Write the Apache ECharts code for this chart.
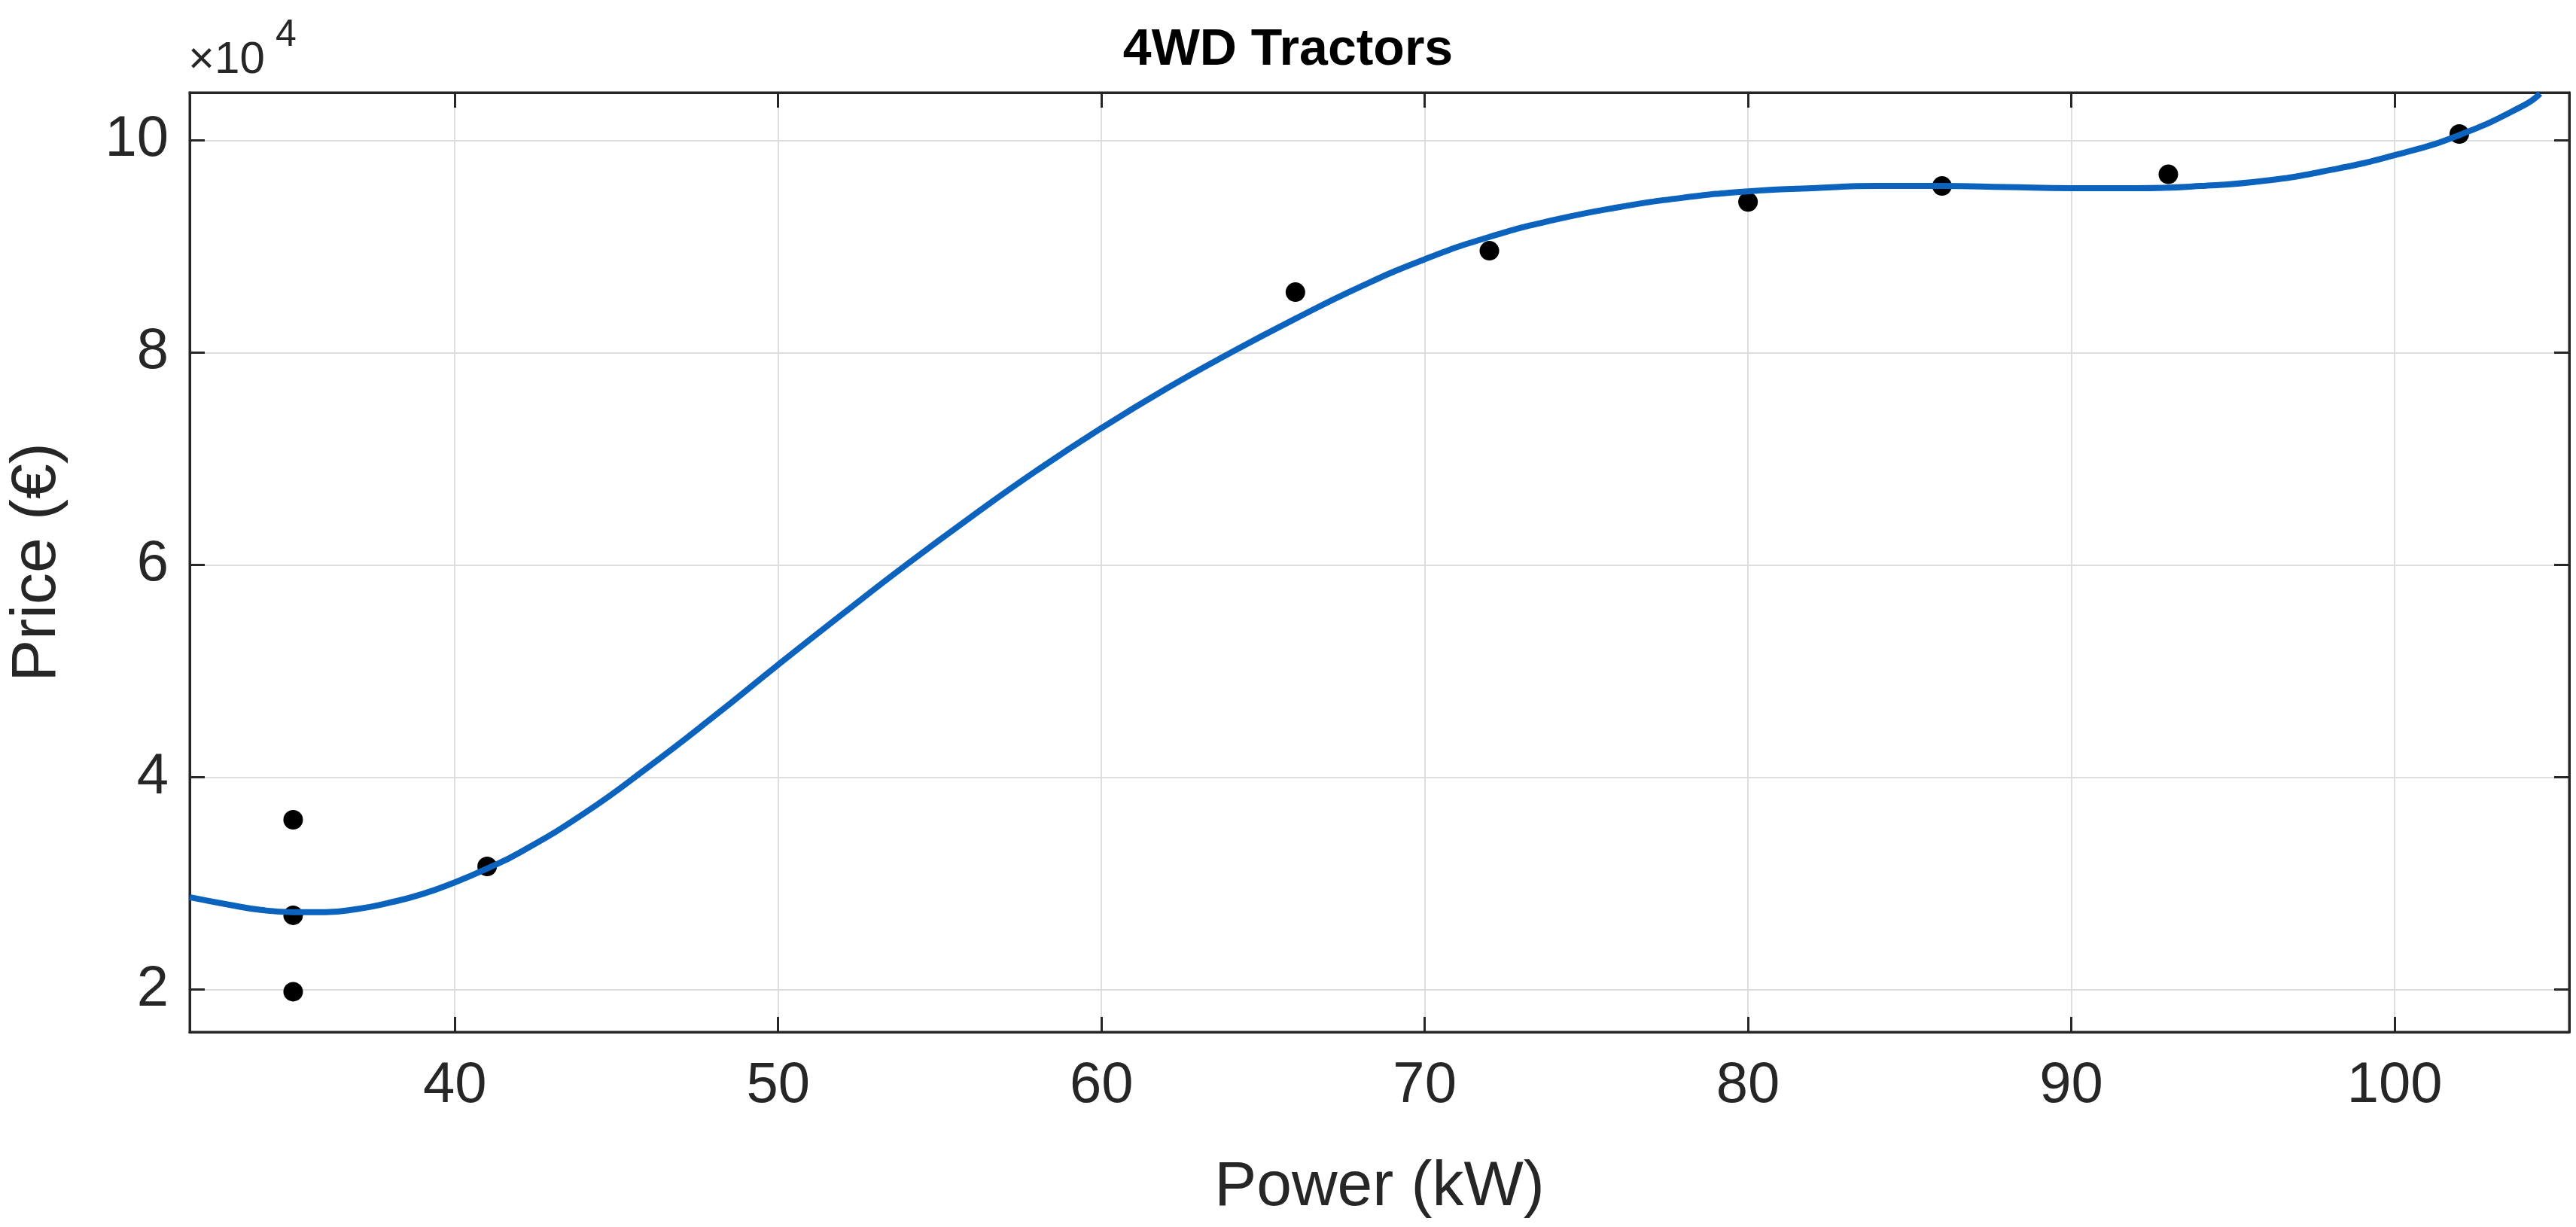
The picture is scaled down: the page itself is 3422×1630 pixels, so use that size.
<!DOCTYPE html>
<html style="height: 100%">
<head>
    <meta charset="UTF-8">
    <title>4WD Tractors</title>
</head>
<body style="height: 100%; margin: 0; background: #fff">
<div id="main" style="width: 3422px; height: 1630px"></div>
<script src="https://cdn.jsdelivr.net/npm/echarts@6/dist/echarts.min.js"></script>
<script type="text/javascript">
    // measured points (kW, €)
    var pointPower = [35, 35, 35, 41, 66, 72, 80, 86, 93, 102];
    var pointPrice = [36000, 27000, 19800, 31600, 85700, 89600, 94200, 95700, 96800, 100600];
    // fitted curve
    var curvePower = [31.8, 33, 34, 35, 36, 37, 38, 39, 40, 41, 42, 44, 46, 48, 50, 52, 54, 56, 58, 60,
        62, 64, 66, 68, 70, 72, 74, 76, 78, 80, 82, 84, 86, 88, 90, 92, 94, 96, 98, 100, 102, 104, 104.5];
    var curvePrice = [28700, 28000, 27500, 27300, 27300, 27600, 28200, 29000, 30100, 31400, 32900, 36600,
        41000, 45700, 50600, 55400, 60100, 64600, 68900, 72900, 76600, 80000, 83200, 86200, 88800, 90900,
        92500, 93700, 94600, 95200, 95500, 95700, 95700, 95600, 95500, 95500, 95700, 96200, 97200, 98600,
        100500, 103300, 104400];
    var xTicks = [40, 50, 60, 70, 80, 90, 100];
    var yTicks = [20000, 40000, 60000, 80000, 100000];

    var font = 'Arial, "Liberation Sans", sans-serif';
    var chart = echarts.init(document.getElementById('main'));

    var pts = pointPower.map(function (x, i) { return [x, pointPrice[i]]; });
    var curve = curvePower.map(function (x, i) { return [x, curvePrice[i]]; });

    var lineStyle = {color: '#262626', width: 3};
    var gridLine = {show: true, lineStyle: {color: '#dedede', width: 2}};
    var X = {min: 31.8, max: 105.4};
    var Y = {min: 16000, max: 104500};

    chart.setOption({
        animation: false,
        title: {
            text: '4WD Tractors', left: 'center', top: 28,
            textStyle: {fontFamily: font, fontSize: 68, fontWeight: 'bold', color: '#000'}
        },
        grid: {left: 246, right: 9, top: 123, bottom: 259, show: true, borderColor: '#262626', borderWidth: 3},
        graphic: [{
            type: 'text', left: 250, top: 50,
            style: {text: '×10', fontFamily: font, fontSize: 60, fill: '#262626'}
        }, {
            type: 'text', left: 366, top: 22,
            style: {text: '4', fontFamily: font, fontSize: 50, fill: '#262626'}
        }],
        xAxis: [{
            type: 'value', min: X.min, max: X.max,
            name: 'Power (kW)', nameLocation: 'middle', nameGap: 165,
            nameTextStyle: {fontFamily: font, fontSize: 84, color: '#262626'},
            axisLine: {show: true, onZero: false, lineStyle: lineStyle},
            axisTick: {show: true, inside: true, length: 20, customValues: xTicks, lineStyle: lineStyle},
            axisLabel: {customValues: xTicks, fontFamily: font, fontSize: 76, color: '#262626', margin: 34},
            splitLine: gridLine
        }, {
            type: 'value', position: 'top', min: X.min, max: X.max,
            axisLine: {show: true, onZero: false, lineStyle: lineStyle},
            axisTick: {show: true, inside: true, length: 20, customValues: xTicks, lineStyle: lineStyle},
            axisLabel: {show: false},
            splitLine: {show: false}
        }],
        yAxis: [{
            type: 'value', min: Y.min, max: Y.max,
            name: 'Price (€)', nameLocation: 'middle', nameGap: 160,
            nameTextStyle: {fontFamily: font, fontSize: 84, color: '#262626'},
            axisLine: {show: true, onZero: false, lineStyle: lineStyle},
            axisTick: {show: true, inside: true, length: 20, customValues: yTicks, lineStyle: lineStyle},
            axisLabel: {customValues: yTicks, fontFamily: font, fontSize: 76, color: '#262626', margin: 28,
                formatter: function (v) { return String(v / 10000); }},
            splitLine: gridLine
        }, {
            type: 'value', position: 'right', min: Y.min, max: Y.max,
            axisLine: {show: true, onZero: false, lineStyle: lineStyle},
            axisTick: {show: true, inside: true, length: 20, customValues: yTicks, lineStyle: lineStyle},
            axisLabel: {show: false},
            splitLine: {show: false}
        }],
        series: [{
            type: 'line', data: curve, smooth: true, showSymbol: false, clip: true,
            lineStyle: {color: '#0b63bd', width: 8}
        }, {
            type: 'scatter', data: pts, symbolSize: 26,
            itemStyle: {color: '#000', opacity: 1}
        }]
    });
</script>
</body>
</html>
